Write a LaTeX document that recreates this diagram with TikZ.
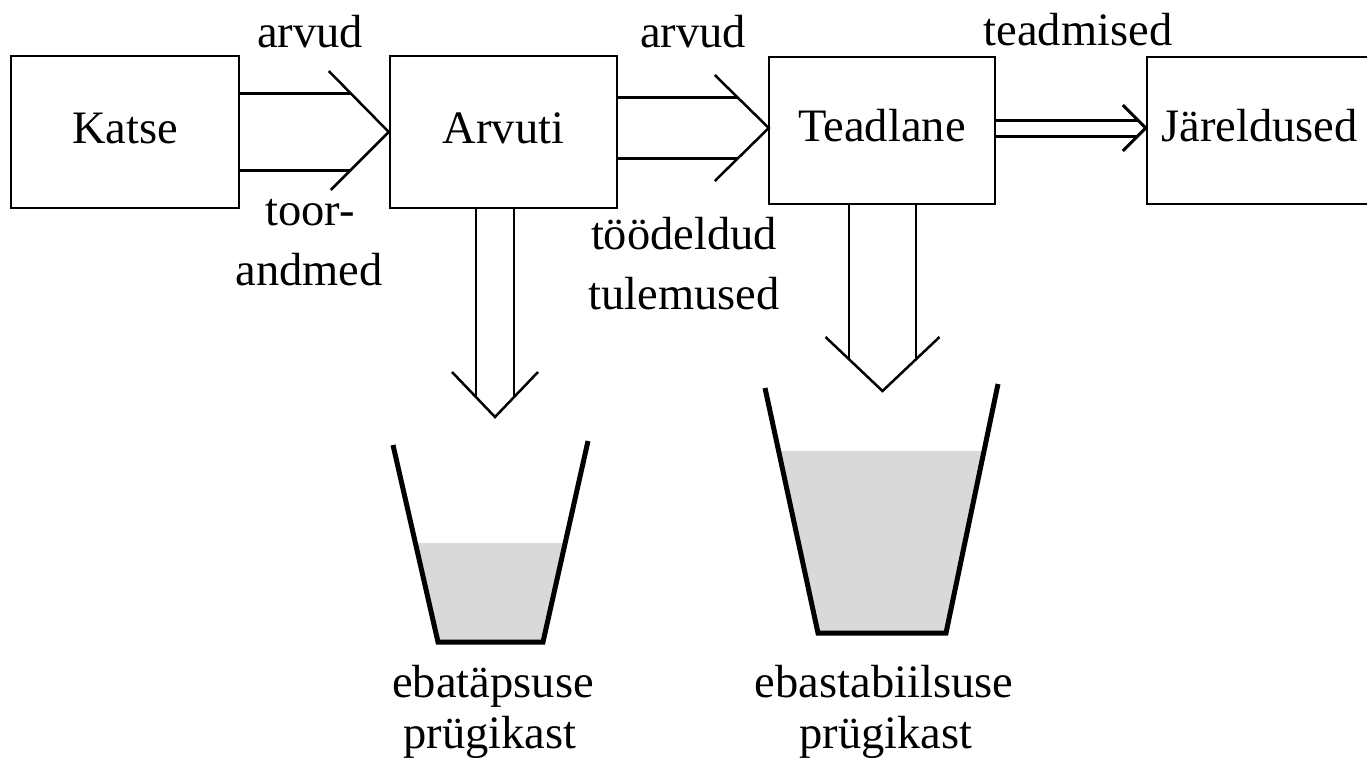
\documentclass[tikz,border=0pt]{standalone}
\usepackage{fontspec}
\setmainfont{Liberation Serif}
\usetikzlibrary{calc}
\begin{document}
\begin{tikzpicture}[x=1pt,y=-1pt,
  txt/.style={font=\fontsize{46.5}{56}\selectfont, inner sep=0pt},
  lbl/.style={txt, anchor=base},
  box/.style={txt, draw, line width=2.5pt, rectangle, text height=34pt, text depth=12pt},
  shaft/.style={line width=2.5pt},
  thickshaft/.style={line width=3pt},
  bucket/.style={line width=5pt, line join=miter},
  waste/.style={fill=black!15, draw=none}]
\useasboundingbox (0,0) rectangle (1367,758);
% boxes
\node[box, minimum width=228pt, minimum height=152pt] (katse) at (125,132) {Katse};
\node[box, minimum width=227pt, minimum height=152pt] (arvuti) at (503.5,132) {Arvuti};
\node[box, minimum width=226pt, minimum height=147pt] (teadlane) at (882,130.5) {Teadlane};
\node[box, minimum width=225pt, minimum height=147pt] (jareldused) at (1259.5,130.5) {Järeldused};
% arrow Katse -> Arvuti
\draw[shaft] ($(katse.east)+(0,-38.5)$) -- ($(arvuti.west)+(-38.5,-38.5)$);
\draw[shaft] ($(katse.east)+(0,38.5)$) -- ($(arvuti.west)+(-38.5,38.5)$);
\draw[shaft] ($(arvuti.west)+(-60,-61)$) -- (arvuti.west) -- ($(arvuti.west)+(-58,58)$);
% arrow Arvuti -> Teadlane
\coordinate (t2) at ($(teadlane.west)+(1,-2.5)$);
\draw[shaft] ($(arvuti.east|-t2)+(0,-30.5)$) -- ($(t2)+(-30.5,-30.5)$);
\draw[shaft] ($(arvuti.east|-t2)+(0,30.5)$) -- ($(t2)+(-30.5,30.5)$);
\draw[shaft] ($(t2)+(-54,-53)$) -- (t2) -- ($(t2)+(-54,53)$);
% arrow Teadlane -> Jareldused
\coordinate (t3) at ($(jareldused.west)+(0,-2.5)$);
\draw[thickshaft] ($(teadlane.east|-t3)+(0,-8)$) -- ($(t3)+(-8,-8)$);
\draw[thickshaft] ($(teadlane.east|-t3)+(0,8)$) -- ($(t3)+(-8,8)$);
\draw[thickshaft] ($(t3)+(-23,-23)$) -- (t3) -- ($(t3)+(-23,23)$);
% down arrow from Arvuti
\coordinate (s1) at ($(arvuti.south)+(-8.5,0)$);
\coordinate (d1) at (495,417);
\draw[shaft] ($(s1)+(-19,0)$) -- ($(d1)+(-19,-19)$);
\draw[shaft] ($(s1)+(19,0)$) -- ($(d1)+(19,-19)$);
\draw[shaft] ($(d1)+(-43,-45)$) -- (d1) -- ($(d1)+(43,-45)$);
% down arrow from Teadlane
\coordinate (s2) at ($(teadlane.south)+(0.5,0)$);
\coordinate (d2) at (882.5,391);
\draw[shaft] ($(s2)+(-33.5,0)$) -- ($(d2)+(-33.5,-33.5)$);
\draw[shaft] ($(s2)+(33.5,0)$) -- ($(d2)+(33.5,-33.5)$);
\draw[shaft] ($(d2)+(-57,-54)$) -- (d2) -- ($(d2)+(57,-54)$);
% bucket 1
\fill[waste] (415.4,543) -- (438,642) -- (543,642) -- (565.2,543) -- cycle;
\draw[bucket] (393,445) -- (438,642) -- (543,642) -- (588,441);
% bucket 2
\fill[waste] (778.6,451) -- (818,633) -- (946,633) -- (984,451) -- cycle;
\draw[bucket] (765,388) -- (818,633) -- (946,633) -- (998,384);
% labels
\node[lbl] (l1) at (310,47) {arvud};
\node[lbl] (l2) at (310,225) {toor-};
\node[lbl] (l3) at (309,285) {andmed};
\node[lbl] (l4) at (693,47) {arvud};
\node[lbl] (l5) at (684,249) {töödeldud};
\node[lbl] (l6) at (684,309) {tulemused};
\node[lbl] (l7) at (1078,45) {teadmised};
\node[lbl] (l8) at (493,697) {ebatäpsuse};
\node[lbl] (l9) at (490,748) {prügikast};
\node[lbl] (l10) at (884,697) {ebastabiilsuse};
\node[lbl] (l11) at (886,748) {prügikast};
\end{tikzpicture}
\end{document}
